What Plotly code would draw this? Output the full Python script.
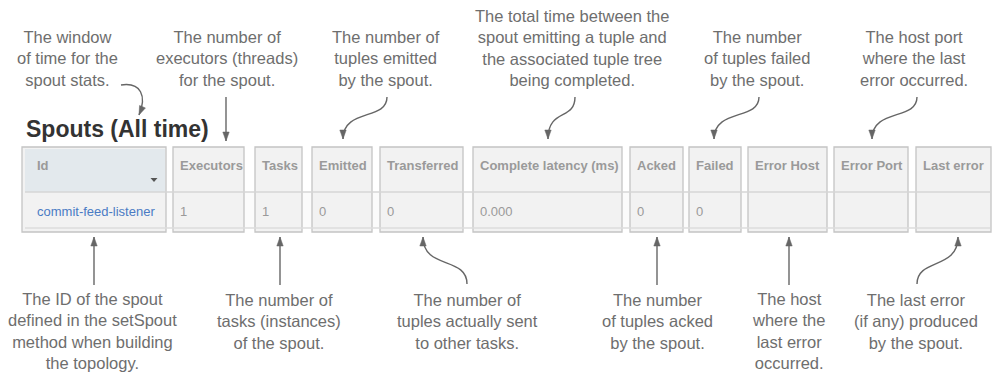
import math
import plotly.graph_objects as go

# ---------------- data ----------------
title_text = "Spouts (All time)"
headers = ["Id", "Executors", "Tasks", "Emitted", "Transferred", "Complete latency (ms)",
           "Acked", "Failed", "Error Host", "Error Port", "Last error"]
row_values = ["commit-feed-listener", "1", "1", "0", "0", "0.000", "0", "0", "", "", ""]

top_notes = [
    "The window<br>of time for the<br>spout stats.",
    "The number of<br>executors (threads)<br>for the spout.",
    "The number of<br>tuples emitted<br>by the spout.",
    "The total time between the<br>spout emitting a tuple and<br>the associated tuple tree<br>being completed.",
    "The number<br>of tuples failed<br>by the spout.",
    "The host port<br>where the last<br>error occurred.",
]
bottom_notes = [
    "The ID of the spout<br>defined in the setSpout<br>method when building<br>the topology.",
    "The number of<br>tasks (instances)<br>of the spout.",
    "The number of<br>tuples actually sent<br>to other tasks.",
    "The number<br>of tuples acked<br>by the spout.",
    "The host<br>where the<br>last error<br>occurred.",
    "The last error<br>(if any) produced<br>by the spout.",
]

# ---------------- layout geometry ----------------
W, H = 997, 373
col_left = [22, 173, 255, 312, 380, 473, 630, 689, 748, 834, 916]
col_right = [166, 244, 302, 372, 463, 622, 683, 741, 827, 908, 991]
box_top, box_bottom = 147, 232
head_sep, row_bottom = 192, 228
head_y, row_y = 165, 211

top_pos = [(67, 58), (227, 58), (386, 58), (572, 47.5), (757, 58), (914, 58)]
bottom_pos = [(92, 331), (279, 321), (467, 321), (657, 321), (788, 331), (916, 321)]

# arrows: (start, ctrl1, ctrl2, tip) or (start, tip) for straight
top_arrows = [
    [(121, 85), (141, 82), (147, 96), (139, 115)],
    [(226, 97), (226, 141)],
    [(387, 97), (387, 121), (343, 108), (343, 139)],
    [(575, 97), (575, 121), (548, 108), (548, 139)],
    [(759, 97), (759, 121), (714, 108), (714, 139)],
    [(917, 97), (917, 121), (872, 108), (872, 139)],
]
bottom_arrows = [
    [(94, 285), (94, 237)],
    [(280, 285), (280, 237)],
    [(467, 284), (467, 256), (423, 270), (423, 237)],
    [(657, 285), (657, 237)],
    [(789, 285), (789, 237)],
    [(917, 284), (917, 258), (958, 270), (958, 237)],
]

FONT = "Liberation Sans, Arial, Helvetica, sans-serif"
NOTE_COLOR = "#6e6e6e"
ARROW_COLOR = "#666666"

shapes = []
annotations = []

# underlying table background
shapes.append(dict(type="rect", x0=25, x1=990, y0=head_sep, y1=row_bottom,
                   fillcolor="#fbfbfb", line=dict(width=0), layer="below"))

# column boxes
for i in range(len(headers)):
    shapes.append(dict(type="rect", x0=col_left[i], x1=col_right[i], y0=box_top, y1=box_bottom,
                       fillcolor="#f2f2f2", line=dict(color="#c4c4c4", width=1.3)))

# Id header background
shapes.append(dict(type="rect", x0=25, x1=165, y0=149, y1=head_sep,
                   fillcolor="#e3e9ed", line=dict(width=0)))
# sort caret
shapes.append(dict(type="path", path="M 150.5,178 L 157.5,178 L 154,182 Z",
                   fillcolor="#555555", line=dict(width=0)))

# table rules across
shapes.append(dict(type="line", x0=25, x1=990, y0=head_sep, y1=head_sep,
                   line=dict(color="#d6d6d6", width=1.3)))
shapes.append(dict(type="line", x0=25, x1=990, y0=row_bottom, y1=row_bottom,
                   line=dict(color="#dcdcdc", width=1.3)))

# header & cell texts
for i, (h, v) in enumerate(zip(headers, row_values)):
    pad = 13 if i == 0 else 5
    annotations.append(dict(x=col_left[i] + pad, y=head_y, text="<b>" + h + "</b>",
                            xanchor="left", yanchor="middle", showarrow=False,
                            font=dict(family=FONT, size=13, color="#9a9a9a")))
    if v:
        annotations.append(dict(x=col_left[i] + pad, y=row_y, text=v,
                                xanchor="left", yanchor="middle", showarrow=False,
                                font=dict(family=FONT, size=13,
                                          color="#4a7bc4" if i == 0 else "#9a9a9a")))

# title
annotations.append(dict(x=24, y=129, text="<b>" + title_text + "</b>", xanchor="left",
                        yanchor="middle", showarrow=False,
                        font=dict(family=FONT, size=23, color="#333333")))

# notes
for txt, (x, y) in zip(top_notes + bottom_notes, top_pos + bottom_pos):
    annotations.append(dict(x=x, y=y, text=txt, xanchor="center", yanchor="middle",
                            align="center", showarrow=False,
                            font=dict(family=FONT, size=16.5, color=NOTE_COLOR)))


def add_arrow(pts):
    if len(pts) == 2:
        (x0, y0), (x1, y1) = pts
        path = f"M {x0},{y0} L {x1},{y1}"
        px, py = x0, y0
    else:
        (x0, y0), (c1x, c1y), (c2x, c2y), (x1, y1) = pts
        path = f"M {x0},{y0} C {c1x},{c1y} {c2x},{c2y} {x1},{y1}"
        px, py = c2x, c2y
    dx, dy = x1 - px, y1 - py
    n = math.hypot(dx, dy)
    dx, dy = dx / n, dy / n
    L, w = 9, 3.2
    bx, by = x1 - L * dx, y1 - L * dy
    shapes.append(dict(type="path", path=path, line=dict(color=ARROW_COLOR, width=1.4)))
    head = (f"M {x1},{y1} L {bx - w * dy},{by + w * dx} "
            f"L {bx + w * dy},{by - w * dx} Z")
    shapes.append(dict(type="path", path=head, fillcolor=ARROW_COLOR,
                       line=dict(color=ARROW_COLOR, width=0.5)))


for a in top_arrows + bottom_arrows:
    add_arrow(a)

fig = go.Figure()
fig.update_layout(
    width=W, height=H,
    margin=dict(l=0, r=0, t=0, b=0),
    paper_bgcolor="white", plot_bgcolor="white",
    xaxis=dict(range=[0, W], visible=False, fixedrange=True),
    yaxis=dict(range=[H, 0], visible=False, fixedrange=True),
    shapes=shapes, annotations=annotations, showlegend=False,
)
fig.write_html(
    "out.html",
    config={"displayModeBar": False},
    post_script="document.body.style.margin='0';document.body.style.overflow='hidden';",
)
